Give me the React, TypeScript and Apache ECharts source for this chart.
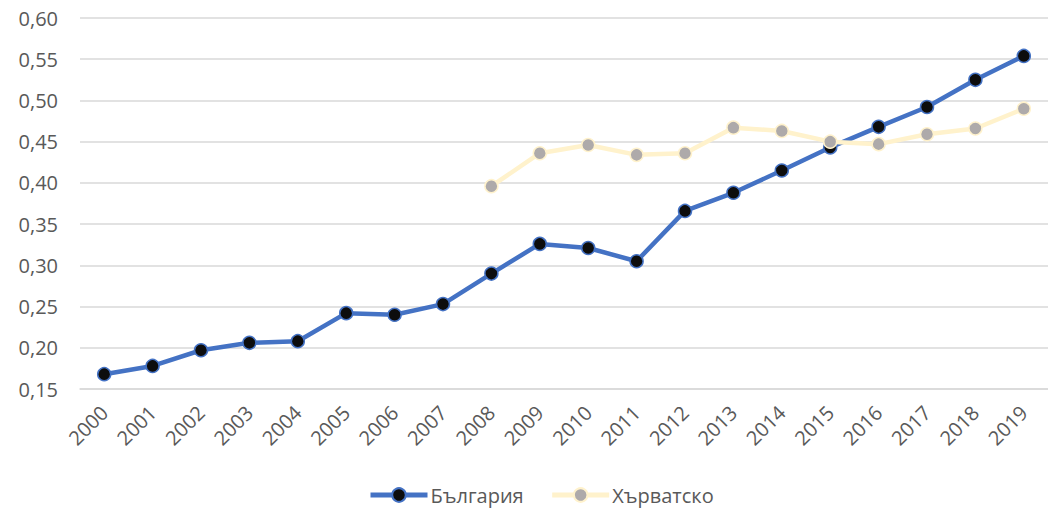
import React, { useEffect, useRef } from "react";
import * as echarts from "echarts";

const years = ["2000","2001","2002","2003","2004","2005","2006","2007","2008","2009","2010","2011","2012","2013","2014","2015","2016","2017","2018","2019"];
const bulgaria = [0.168,0.178,0.197,0.206,0.208,0.242,0.240,0.253,0.290,0.326,0.321,0.305,0.366,0.388,0.415,0.443,0.468,0.492,0.525,0.554];
const croatia = [null,null,null,null,null,null,null,null,0.396,0.436,0.446,0.434,0.436,0.467,0.463,0.450,0.447,0.459,0.466,0.490];
const seriesNames = ["България", "Хърватско"];

export default function App() {
  const ref = useRef<HTMLDivElement>(null);
  useEffect(() => {
    document.body.style.margin = "0";
    const chart = echarts.init(ref.current!, null, { renderer: "svg" });
    const font = "'Open Sans', 'Noto Sans', sans-serif";
    chart.setOption({
      animation: false,
      grid: { left: 80, right: -3, top: 18, bottom: 121 },
      legend: {
        bottom: 0,
        left: 363,
        itemWidth: 57,
        itemHeight: 17,
        itemGap: 26,
        textStyle: { fontFamily: font, fontSize: 20, color: "#595959", padding: [0, 0, 0, -2] },
        lineStyle: { width: 5 },
        data: seriesNames,
      },
      xAxis: {
        type: "category",
        data: years,
        boundaryGap: true,
        axisLine: { show: true, lineStyle: { color: "#D9D9D9", width: 1.5 } },
        axisTick: { show: false },
        axisLabel: { rotate: 45, margin: 20, fontFamily: font, fontSize: 20, color: "#595959" },
      },
      yAxis: {
        type: "value",
        min: 0.15,
        max: 0.6,
        interval: 0.05,
        axisLine: { show: false },
        axisTick: { show: false },
        splitLine: { lineStyle: { color: "#D9D9D9", width: 1.5 } },
        axisLabel: {
          margin: 22,
          fontFamily: font,
          fontSize: 20,
          color: "#595959",
          formatter: (v: number) => v.toFixed(2).replace(".", ","),
        },
      },
      series: [
        {
          name: seriesNames[0],
          type: "line",
          data: bulgaria,
          symbol: "circle",
          symbolSize: 13,
          lineStyle: { color: "#4472C4", width: 4.5 },
          itemStyle: { color: "#0D0D0D", borderColor: "#4472C4", borderWidth: 1.5 },
        },
        {
          name: seriesNames[1],
          type: "line",
          data: croatia,
          symbol: "circle",
          symbolSize: 13,
          lineStyle: { color: "#FFF2CC", width: 4.5 },
          itemStyle: { color: "#AEAAAA", borderColor: "#FFF2CC", borderWidth: 1.5 },
        },
      ],
    });
    return () => chart.dispose();
  }, []);
  return <div ref={ref} style={{ width: 1048, height: 510 }} />;
}
